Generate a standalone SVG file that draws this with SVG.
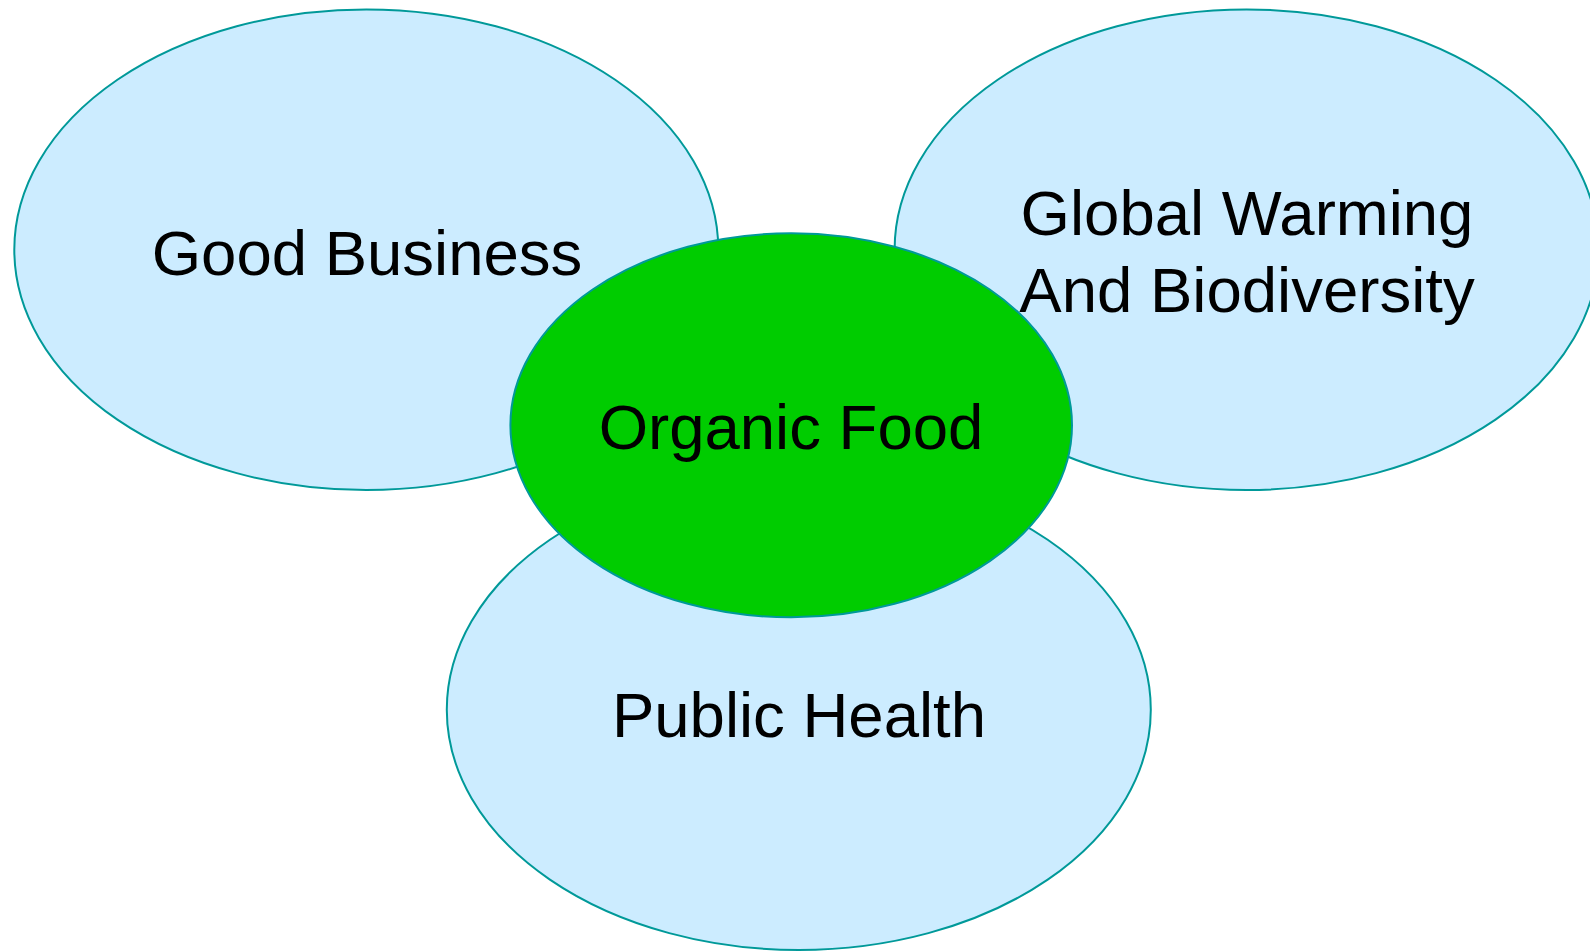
<svg xmlns="http://www.w3.org/2000/svg" width="1590" height="951" viewBox="0 0 1590 951">
<style>
.outer{fill:#CCECFF;stroke:#009999;stroke-width:2}
.center{fill:#00CC00;stroke:#009999;stroke-width:2}
.lbl{font-family:"Liberation Sans",Arial,sans-serif;font-size:63.5px;fill:#000;text-anchor:middle}
</style>
<rect width="1590" height="951" fill="#FFFFFF"/>
<g id="good-business">
<ellipse class="outer" cx="366.3" cy="249.7" rx="352" ry="240.3"/>
<text class="lbl" x="367" y="275">Good Business</text>
</g>
<g id="global-warming">
<ellipse class="outer" cx="1246.6" cy="249.7" rx="352" ry="240.3"/>
<text class="lbl" x="1247" y="235">Global Warming</text>
<text class="lbl" x="1247" y="311.5">And Biodiversity</text>
</g>
<g id="public-health">
<ellipse class="outer" cx="798.8" cy="709.7" rx="352" ry="240.3"/>
<text class="lbl" x="799" y="737">Public Health</text>
</g>
<g id="organic-food">
<ellipse class="center" cx="791.2" cy="425.3" rx="280.8" ry="192"/>
<text class="lbl" x="791" y="449">Organic Food</text>
</g>
<g id="connectors"/>
</svg>
